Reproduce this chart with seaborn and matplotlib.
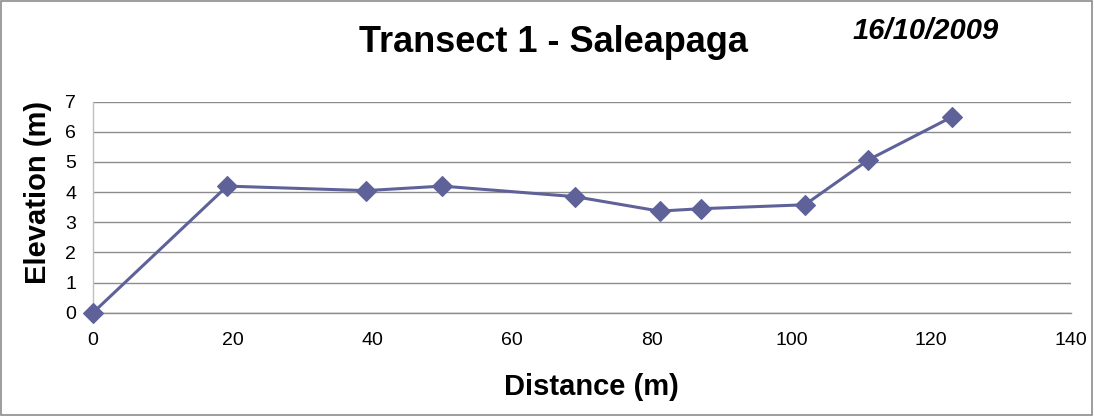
import matplotlib
matplotlib.use("Agg")
import matplotlib.pyplot as plt
import seaborn as sns
import pandas as pd
from matplotlib.patches import Rectangle

# Data
distance = [0, 19.2, 39.1, 50.0, 69.0, 81.1, 87.0, 101.9, 111.0, 123.0]
elevation = [0, 4.2, 4.05, 4.2, 3.85, 3.37, 3.45, 3.58, 5.07, 6.5]
x_ticks = [0, 20, 40, 60, 80, 100, 120, 140]
y_ticks = [0, 1, 2, 3, 4, 5, 6, 7]

df = pd.DataFrame({"Distance": distance, "Elevation": elevation})

sns.set_style("white")
plt.rcParams['font.family'] = ['Liberation Sans', 'DejaVu Sans']
plt.rcParams['text.color'] = 'black'

fig = plt.figure(figsize=(10.94, 4.16), dpi=100)
ax = fig.add_axes([93/1094, 1-312.7/416, 978/1094, 211/416])

line_color = "#5F6299"
sns.lineplot(data=df, x="Distance", y="Elevation", ax=ax, color=line_color,
             linewidth=2.2, marker="D", markersize=10, markeredgecolor=line_color,
             markeredgewidth=0.8, clip_on=False, zorder=5)

ax.set_xlim(0, 140)
ax.set_ylim(0, 7)
ax.set_xticks(x_ticks)
ax.set_yticks(y_ticks)
ax.set_xticklabels([str(v) for v in x_ticks], fontsize=14)
ax.set_yticklabels([str(v) for v in y_ticks], fontsize=14)
ax.tick_params(axis='x', length=0, pad=14, labelcolor='black')
ax.tick_params(axis='y', length=0, pad=12, labelcolor='black')
ax.yaxis.grid(True, color="#8C8C8C", linewidth=1.0)
ax.xaxis.grid(False)
ax.set_axisbelow(True)
for s in ["top", "right"]:
    ax.spines[s].set_visible(False)
ax.spines["left"].set_color("#BFBFBF")
ax.spines["left"].set_linewidth(1.0)
ax.spines["bottom"].set_color("#8C8C8C")
ax.spines["bottom"].set_linewidth(1.0)
ax.set_xlabel("")
ax.set_ylabel("")

fig.text(553/1094, 1-43/416, "Transect 1 - Saleapaga", ha="center", va="center",
         fontsize=26, fontweight="bold", color="black")
fig.text(926/1094, 1-31/416, "16/10/2009", ha="center", va="center",
         fontsize=21, fontweight="bold", fontstyle="italic", color="black")
fig.text(591/1094, 1-387/416, "Distance (m)", ha="center", va="center",
         fontsize=21, fontweight="bold", color="black")
fig.text(38/1094, 1-192/416, "Elevation (m)", ha="center", va="center",
         fontsize=21, fontweight="bold", rotation=90, color="black")

fig.patches.append(Rectangle((0.001, 0.002), 0.997, 0.995, transform=fig.transFigure,
                             fill=False, edgecolor="#8C8C8C", linewidth=1.2))

fig.savefig("out.png", dpi=100)
